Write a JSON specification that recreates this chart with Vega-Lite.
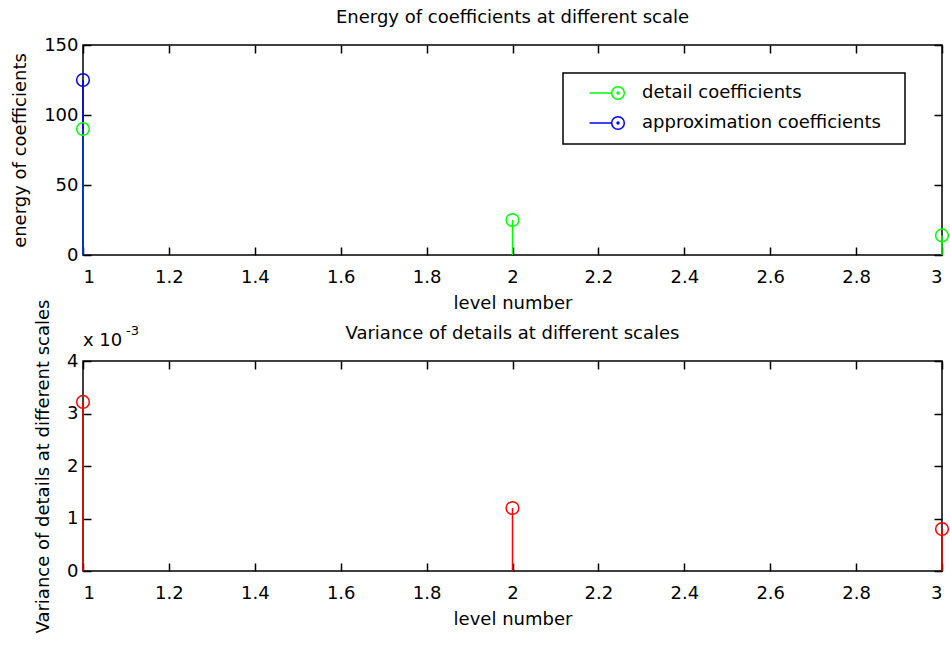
{
  "$schema": "https://vega.github.io/schema/vega-lite/v6.json",
  "background": "white",
  "padding": {"left": 10, "top": 8, "right": 5, "bottom": 0},
  "bounds": "flush",
  "spacing": 106,
  "config": {
    "font": "DejaVu Sans",
    "view": {"stroke": "black", "strokeWidth": 1.5},
    "axis": {
      "grid": false,
      "domain": false,
      "tickColor": "black",
      "tickWidth": 1.5,
      "tickSize": 8,
      "offset": -8,
      "labelFont": "DejaVu Sans",
      "labelFontSize": 18,
      "labelColor": "black",
      "titleFont": "DejaVu Sans",
      "titleFontSize": 18,
      "titleFontWeight": "normal",
      "titleColor": "black"
    },
    "title": {"font": "DejaVu Sans", "fontSize": 18, "fontWeight": "normal", "color": "black"},
    "legend": {"strokeWidth": 1.5}
  },
  "vconcat": [
    {
      "width": 859,
      "height": 210,
      "title": {"text": "Energy of coefficients at different scale", "frame": "group", "anchor": "middle", "baseline": "alphabetic", "offset": -5},
      "data": {
        "values": [
          {"level": 1, "energy": 90, "type": "detail coefficients"},
          {"level": 2, "energy": 25, "type": "detail coefficients"},
          {"level": 3, "energy": 14, "type": "detail coefficients"},
          {"level": 1, "energy": 125, "type": "approximation coefficients"}
        ]
      },
      "layer": [
        {
          "mark": {"type": "rule", "strokeWidth": 1.5},
          "encoding": {
            "x": {
              "field": "level", "type": "quantitative",
              "scale": {"domain": [1, 3], "nice": false, "zero": false},
              "axis": {"values": [1, 1.2, 1.4, 1.6, 1.8, 2, 2.2, 2.4, 2.6, 2.8, 3], "format": "~g", "title": "level number", "labelPadding": 13, "titlePadding": 8}
            },
            "y": {
              "field": "energy", "type": "quantitative",
              "scale": {"domain": [0, 150], "nice": false},
              "axis": {"values": [0, 50, 100, 150], "title": "energy of coefficients", "labelPadding": 5, "titlePadding": 14}
            },
            "y2": {"datum": 0},
            "color": {
              "field": "type", "type": "nominal",
              "scale": {"domain": ["detail coefficients", "approximation coefficients"], "range": ["#00ff00", "#0000ff"]},
              "legend": {
                "orient": "none", "legendX": 480, "legendY": 28,
                "title": "\u00a0", "titleOrient": "right", "titlePadding": 13, "titleFontSize": 18,
                "strokeColor": "black", "fillColor": "white",
                "padding": 11, "rowPadding": 10,
                "symbolSize": 160, "symbolStrokeWidth": 1.5,
                "symbolType": "M-4.5,0L-1,0M-1,0A1,1 0 1,0 1,0A1,1 0 1,0 -1,0M-0.15,0A0.15,0.15 0 1,0 0.15,0A0.15,0.15 0 1,0 -0.15,0",
                "symbolOffset": 35, "labelOffset": 15,
                "labelFontSize": 18, "labelColor": "black", "labelLimit": 0
              }
            }
          }
        },
        {
          "mark": {"type": "point", "shape": "circle", "filled": false, "size": 160, "strokeWidth": 1.5, "opacity": 1},
          "encoding": {
            "x": {"field": "level", "type": "quantitative", "axis": {"orient": "top", "labels": false, "title": null, "values": [1, 1.2, 1.4, 1.6, 1.8, 2, 2.2, 2.4, 2.6, 2.8, 3]}},
            "y": {"field": "energy", "type": "quantitative", "axis": {"orient": "right", "labels": false, "title": null, "values": [0, 50, 100, 150]}},
            "color": {"field": "type", "type": "nominal"}
          }
        }
      ],
      "resolve": {"axis": {"x": "independent", "y": "independent"}}
    },
    {
      "width": 859,
      "height": 210,
      "title": {"text": "Variance of details at different scales", "frame": "group", "anchor": "middle", "baseline": "alphabetic", "offset": -58},
      "data": {
        "values": [
          {"level": 1, "variance": 0.00322},
          {"level": 2, "variance": 0.0012},
          {"level": 3, "variance": 0.0008}
        ]
      },
      "layer": [
        {
          "mark": {"type": "rule", "strokeWidth": 1.5, "color": "#ff0000"},
          "encoding": {
            "x": {
              "field": "level", "type": "quantitative",
              "scale": {"domain": [1, 3], "nice": false, "zero": false},
              "axis": {"values": [1, 1.2, 1.4, 1.6, 1.8, 2, 2.2, 2.4, 2.6, 2.8, 3], "format": "~g", "title": "level number", "labelPadding": 13, "titlePadding": 8}
            },
            "y": {
              "field": "variance", "type": "quantitative",
              "scale": {"domain": [0, 0.004], "nice": false},
              "axis": {"values": [0, 0.001, 0.002, 0.003, 0.004], "labelExpr": "round(datum.value*1000)", "title": "Variance of details at different scales", "labelPadding": 5, "titlePadding": 14}
            },
            "y2": {"datum": 0}
          }
        },
        {
          "mark": {"type": "point", "shape": "circle", "filled": false, "size": 160, "strokeWidth": 1.5, "opacity": 1, "color": "#ff0000"},
          "encoding": {
            "x": {"field": "level", "type": "quantitative", "axis": {"orient": "top", "labels": false, "title": null, "values": [1, 1.2, 1.4, 1.6, 1.8, 2, 2.2, 2.4, 2.6, 2.8, 3]}},
            "y": {"field": "variance", "type": "quantitative", "axis": {"orient": "right", "labels": false, "title": null, "values": [0, 0.001, 0.002, 0.003, 0.004]}}
          }
        },
        {
          "data": {"values": [{"t": "x 10"}]},
          "mark": {"type": "text", "align": "left", "baseline": "alphabetic", "fontSize": 18, "dy": -15, "color": "black"},
          "encoding": {
            "x": {"datum": 1, "type": "quantitative", "axis": null},
            "y": {"datum": 0.004, "type": "quantitative", "axis": null},
            "text": {"field": "t"}
          }
        },
        {
          "data": {"values": [{"t": "-3"}]},
          "mark": {"type": "text", "align": "left", "baseline": "alphabetic", "fontSize": 13, "dx": 43, "dy": -26, "color": "black"},
          "encoding": {
            "x": {"datum": 1, "type": "quantitative", "axis": null},
            "y": {"datum": 0.004, "type": "quantitative", "axis": null},
            "text": {"field": "t"}
          }
        }
      ],
      "resolve": {"axis": {"x": "independent", "y": "independent"}}
    }
  ]
}
